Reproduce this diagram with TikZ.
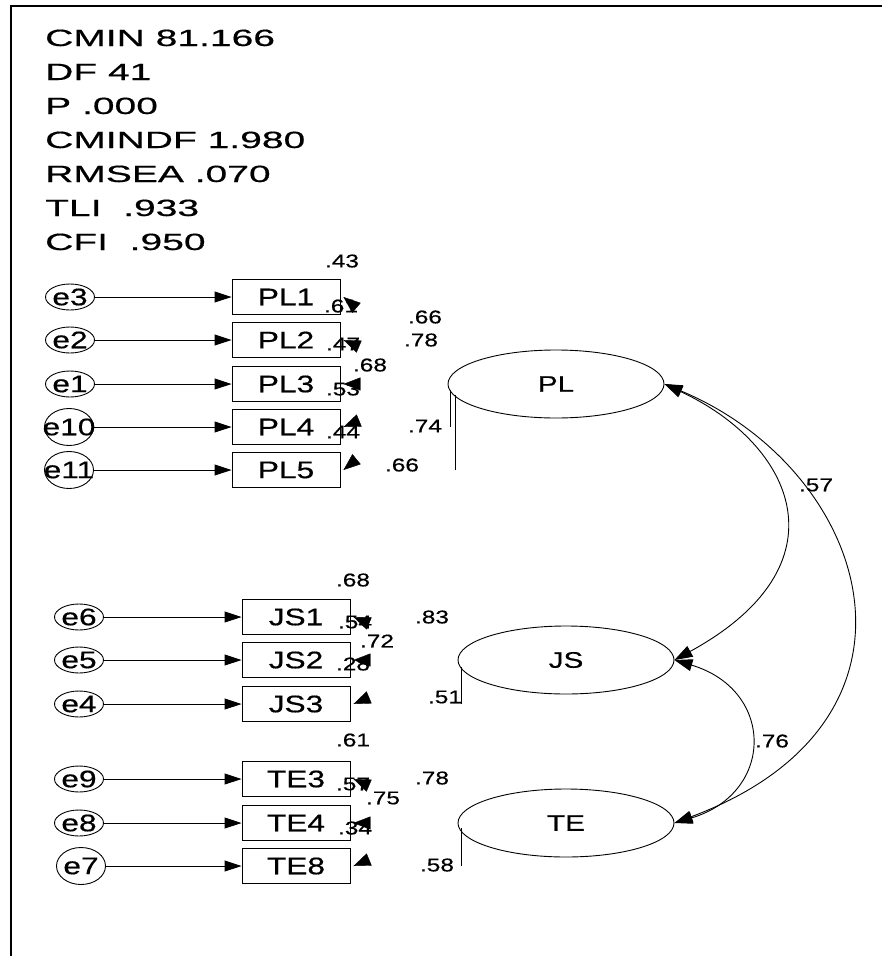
\documentclass[tikz,border=0pt]{standalone}
\usepackage{fontspec}
\newfontfamily\amos[FakeStretch=1.32, FakeBold=0.5]{Liberation Sans}
\newfontfamily\amosfit[FakeStretch=1.66, FakeBold=0.5]{Liberation Sans}
\usetikzlibrary{arrows.meta, shapes.geometric, decorations.markings}

\begin{document}
\begin{tikzpicture}[x=1pt, y=-1pt,
  obs/.style={draw, rectangle, line width=0.9pt, minimum width=108pt, minimum height=35pt,
              inner sep=0pt, font=\amos\fontsize{24}{24}\selectfont},
  err/.style={draw, ellipse, line width=0.9pt, minimum width=49pt, minimum height=26pt,
              inner sep=0pt, font=\amos\fontsize{24}{24}\selectfont},
  errtall/.style={err, minimum height=37pt},
  lat/.style={draw, ellipse, line width=0.9pt, minimum width=216pt, minimum height=68pt,
              inner sep=0pt, font=\amos\fontsize{22.5}{23}\selectfont},
  num/.style={inner sep=0pt, font=\amos\fontsize{18.5}{19}\selectfont},
  fitline/.style={anchor=base west, inner sep=0pt, font=\amosfit\fontsize{23.5}{24}\selectfont},
  arr/.style={-{Triangle[length=17pt, width=11pt]}, line width=0.9pt},
  covar/.style={{Triangle[length=18pt, width=12pt]}-{Triangle[length=18pt, width=12pt]}, line width=0.9pt},
  loadtip/.style={postaction={decorate}, decoration={markings,
              mark=at position 1 with {\arrow{Triangle[length=17pt, width=13pt]}}}}
]
\useasboundingbox (0,0) rectangle (882,956);
\draw[line width=2.4pt] (11,956) -- (11,6) -- (882,6);

% fit indices
\foreach \txt [count=\i] in {CMIN 81.166, DF 41, P .000, CMINDF 1.980, RMSEA .070, TLI~~.933, CFI~~.950}
  \node[fitline] (fit\i) at (45,{46+34*(\i-1)}) {\txt};

% latent variables
\node[lat] (PL) at (556,384) {PL};
\node[lat] (JS) at (566,660) {JS};
\node[lat] (TE) at (566,823) {TE};

% indicators and errors
\foreach \n/\e/\y in {1/3/297, 2/2/340, 3/1/384} {
  \node[obs] (PL\n) at (286,\y) {PL\n};
  \node[err] (e\e) at (70,\y) {\makebox[0pt]{e\e}};
  \draw[arr] (e\e) -- (PL\n);
}
\foreach \n/\e/\y in {4/10/427, 5/11/470} {
  \node[obs] (PL\n) at (286,\y) {PL\n};
  \node[errtall] (e\e) at (69,\y) {\makebox[0pt]{e\e}};
  \draw[arr] (e\e) -- (PL\n);
}
\foreach \n/\e/\y in {1/6/617, 2/5/660, 3/4/704} {
  \node[obs] (JS\n) at (296,\y) {JS\n};
  \node[err] (e\e) at (79,\y) {\makebox[0pt]{e\e}};
  \draw[arr] (e\e) -- (JS\n);
}
\foreach \n/\e/\y in {3/9/779, 4/8/823} {
  \node[obs] (TE\n) at (296,\y) {TE\n};
  \node[err] (e\e) at (79,\y) {\makebox[0pt]{e\e}};
  \draw[arr] (e\e) -- (TE\n);
}
\node[obs] (TE8) at (296,866) {TE8};
\node[errtall] (e7) at (81,866) {\makebox[0pt]{e7}};
\draw[arr] (e7) -- (TE8);

% estimates
\node[num] (nPL1a) at (342,261) {.43};
\node[num] (nPL1b) at (341,306) {.61};
\node[num] (nPL1c) at (425,317) {.66};
\node[num] (nPL2c) at (421,340) {.78};
\node[num] (nPL2b) at (343,344) {.47};
\node[num] (nPL3c) at (370,365) {.68};
\node[num] (nPL3b) at (343,389) {.53};
\node[num] (nPL4c) at (425,426) {.74};
\node[num] (nPL4b) at (343,432) {.44};
\node[num] (nPL5c) at (402,465) {.66};
\node[num] (nJS1a) at (353,580) {.68};
\node[num] (nJS1b) at (355,622) {.54};
\node[num] (nJS1c) at (432,617) {.83};
\node[num] (nJS2c) at (377,641) {.72};
\node[num] (nJS2b) at (353,664) {.28};
\node[num] (nJS3c) at (445,697) {.51};
\node[num] (nTE3a) at (353,740) {.61};
\node[num] (nTE3b) at (353,784) {.57};
\node[num] (nTE3c) at (432,778) {.78};
\node[num] (nTE4c) at (383,798) {.75};
\node[num] (nTE4b) at (355,828) {.34};
\node[num] (nTE8c) at (437,865) {.58};

% loadings (tips only)
\foreach \n in {1,...,5}
  \path[loadtip] (PL.west) -- ([xshift=3pt]PL\n.east);
\foreach \n in {1,2,3}
  \path[loadtip] (JS.west) -- ([xshift=3pt]JS\n.east);
\foreach \n in {3,4,8}
  \path[loadtip] (TE.west) -- ([xshift=3pt]TE\n.east);
\draw[line width=0.9pt] ([shift={(3,6)}]PL.west) -- ([xshift=3pt]PL.west |- PL4.east);
\draw[line width=0.9pt] ([shift={(8,11)}]PL.west) -- ([xshift=8pt]PL.west |- PL5.east);
\draw[line width=0.9pt] ([shift={(3.5,7)}]JS.west) -- ([xshift=3.5pt]JS.west |- JS3.east);
\draw[line width=0.9pt] ([shift={(3.5,5)}]TE.west) -- ([xshift=3.5pt]TE.west |- TE8.east);

% covariances
\draw[covar] (PL.east) .. controls (795,445) and (848,565) .. (JS.east);
\draw[covar] (PL.east) .. controls (870,470) and (950,720) .. (TE.east);
\draw[covar] (JS.east) .. controls (775,690) and (775,793) .. (TE.east);
\node[num] (c57) at (816,485) {.57};
\node[num] (c76) at (772,741) {.76};
\end{tikzpicture}
\end{document}
